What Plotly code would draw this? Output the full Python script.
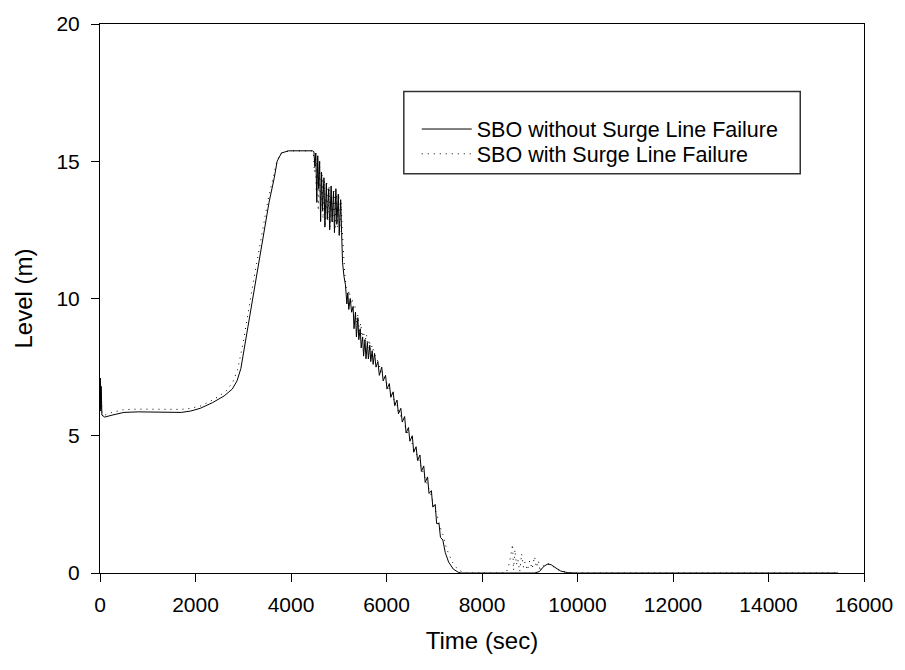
import plotly.graph_objects as go

# ---- data ----
t_without = [0, 8, 16, 24, 40, 100, 250, 500, 800, 1100, 1400, 1700, 1900, 2100, 2350, 2600, 2770, 2870,
             2950, 3100, 3264, 3400, 3540, 3650, 3710, 3800, 3950, 4450,
             4480, 4500, 4520, 4540, 4560, 4580, 4600, 4620, 4640, 4660, 4690, 4710, 4740, 4760, 4790, 4810,
             4840, 4860, 4890, 4910, 4940, 4960, 4990, 5010, 5040, 5060, 5080, 5110, 5140, 5170, 5190, 5210,
             5240, 5270, 5300, 5320, 5350, 5370, 5400, 5420, 5450, 5470, 5500, 5520, 5550, 5570, 5600, 5620,
             5650, 5670, 5700, 5720, 5750, 5780, 5820, 5850, 5900, 5930, 5980, 6010, 6060, 6090, 6140, 6170,
             6220, 6250, 6300, 6330, 6380, 6410, 6460, 6490, 6540, 6570, 6620, 6650, 6700, 6730, 6780, 6810,
             6860, 6890, 6940, 6970, 7020, 7050, 7100, 7130, 7180, 7230, 7300, 7400, 7500, 7560, 8000, 9100,
             9200, 9300, 9380, 9450, 9550, 9650, 9800, 10000, 15460]
lvl_without = [6.0, 7.1, 5.9, 6.8, 5.75, 5.68, 5.75, 5.85, 5.87, 5.87, 5.86, 5.85, 5.9, 6.0, 6.2, 6.45, 6.7, 7.0,
               7.45, 9.0, 10.58, 12.0, 13.5, 14.4, 15.0, 15.3, 15.38, 15.38,
               15.35, 14.8, 15.3, 13.5, 15.2, 14.0, 15.0, 12.8, 14.6, 13.2, 14.4, 12.6, 14.2, 12.9, 14.0, 12.5,
               14.1, 12.8, 13.9, 12.4, 14.0, 12.7, 13.8, 12.3, 13.6, 12.4, 11.3, 10.8, 10.5, 9.8, 10.2, 9.6,
               10.0, 9.5, 9.7, 8.9, 9.5, 8.6, 9.3, 8.5, 8.9, 8.2, 8.6, 7.9, 8.5, 7.8, 8.4, 7.8,
               8.3, 7.7, 8.1, 7.6, 8.0, 7.5, 7.7, 7.2, 7.5, 7.0, 7.2, 6.7, 6.9, 6.4, 6.6, 6.1,
               6.3, 5.8, 6.0, 5.5, 5.7, 5.1, 5.3, 4.8, 5.0, 4.4, 4.6, 4.1, 4.3, 3.7, 3.9, 3.3,
               3.5, 2.9, 3.0, 2.4, 2.5, 1.8, 1.8, 1.3, 1.2, 0.75, 0.4, 0.14, 0.03, 0.0, 0.0, 0.0,
               0.05, 0.25, 0.33, 0.3, 0.18, 0.07, 0.01, 0.0, 0.0]

t_with = [0, 8, 16, 24, 40, 100, 250, 500, 800, 1100, 1400, 1700, 1900, 2100, 2300, 2500, 2650, 2780,
          2880, 3000, 3200, 3380, 3520, 3640, 3710, 3800, 3950, 4450,
          4470, 4490, 4510, 4530, 4550, 4570, 4600, 4620, 4650, 4670, 4700, 4720, 4750, 4770, 4800, 4820,
          4850, 4870, 4900, 4920, 4950, 4970, 5000, 5020, 5050, 5070, 5100, 5130, 5160, 5190, 5220, 5250,
          5280, 5310, 5340, 5370, 5400, 5430, 5460, 5490, 5520, 5550, 5580, 5610, 5640, 5670, 5700, 5740,
          5800, 5860, 5920, 5980, 6040, 6100, 6160, 6220, 6280, 6340, 6400, 6460, 6520, 6580, 6640, 6700,
          6760, 6820, 6880, 6940, 7000, 7060, 7120, 7180, 7240, 7300, 7380, 7460, 7560, 7680, 8500,
          8550, 8600, 8640, 8660, 8690, 8720, 8750, 8790, 8830, 8870, 8900, 8950, 9000, 9050, 9100, 9140,
          9180, 9220, 9260, 9300, 9380, 9450, 9550, 9700, 9900, 15460]
lvl_with = [6.0, 7.0, 5.9, 6.7, 5.8, 5.75, 5.85, 5.95, 5.97, 5.97, 5.96, 5.96, 6.0, 6.08, 6.25, 6.45, 6.65, 6.95,
            7.4, 8.4, 10.5, 12.3, 13.6, 14.5, 15.05, 15.3, 15.38, 15.38,
            15.3, 14.6, 15.3, 13.9, 15.1, 13.2, 14.8, 13.0, 14.5, 12.9, 14.3, 12.7, 14.2, 12.8, 14.1, 12.6,
            14.0, 12.7, 13.9, 12.5, 13.8, 12.6, 13.8, 12.4, 13.5, 12.6, 11.5, 10.8, 10.4, 10.1, 10.3, 9.8,
            10.0, 9.6, 9.7, 9.1, 9.4, 8.8, 9.1, 8.6, 8.8, 8.4, 8.7, 8.2, 8.5, 8.1, 8.3, 8.0,
            7.8, 7.5, 7.3, 7.0, 6.8, 6.5, 6.3, 6.0, 5.8, 5.5, 5.3, 5.0, 4.8, 4.5, 4.3, 4.0,
            3.7, 3.4, 3.1, 2.8, 2.4, 2.1, 1.7, 1.4, 1.0, 0.7, 0.4, 0.2, 0.06, 0.0, 0.0,
            0.2, 0.6, 1.05, 0.1, 0.85, 0.3, 0.5, 0.05, 0.7, 0.2, 0.4, 0.1, 0.45, 0.15, 0.6, 0.2,
            0.45, 0.05, 0.3, 0.25, 0.33, 0.3, 0.15, 0.05, 0.0, 0.0]

x_ticks = [0, 2000, 4000, 6000, 8000, 10000, 12000, 14000, 16000]
y_ticks = [0, 5, 10, 15, 20]

FONT = "Liberation Sans, Arial, sans-serif"

# plot-area geometry in pixels (layout only)
L, R, T, B = 100, 867, 19, 573
W, H = R - L, B - T


def px(x):
    return (x - L) / W


def py(y):
    return (B - y) / H


fig = go.Figure()
fig.add_trace(go.Scatter(x=t_without, y=lvl_without, mode="lines",
                         name="SBO without Surge Line Failure", legend="legend",
                         line=dict(color="black", width=1)))
fig.add_trace(go.Scatter(x=t_with, y=lvl_with, mode="lines",
                         name="SBO with Surge Line Failure", legend="legend2",
                         line=dict(color="black", width=1, dash="1px,5px")))

# legend frame
fig.add_shape(type="rect", xref="paper", yref="paper",
              x0=px(405), x1=px(803), y0=py(170), y1=py(87),
              line=dict(color="#333333", width=1.5), fillcolor="rgba(0,0,0,0)")

leg_common = dict(xanchor="left", yanchor="middle", bgcolor="rgba(0,0,0,0)", borderwidth=0,
                  font=dict(family=FONT, size=21.5, color="black"), itemwidth=50)

fig.update_layout(
    width=905, height=670,
    margin=dict(l=L, r=905 - R, t=T, b=670 - B),
    paper_bgcolor="white", plot_bgcolor="white",
    font=dict(family=FONT, size=21, color="black"),
    showlegend=True,
    legend=dict(x=px(418), y=py(125), **leg_common),
    legend2=dict(x=px(418), y=py(150), **leg_common),
    xaxis=dict(range=[0, 16000], tickvals=x_ticks, ticktext=[str(v) for v in x_ticks],
               showline=True, linecolor="black", linewidth=1, mirror=True,
               ticks="outside", ticklen=8, tickcolor="black", tickwidth=1,
               ticklabelstandoff=5,
               showgrid=False, zeroline=False,
               title=dict(text="Time (sec)", font=dict(size=24), standoff=16)),
    yaxis=dict(range=[0, 20], tickvals=y_ticks, ticktext=[str(v) for v in y_ticks],
               showline=True, linecolor="black", linewidth=1, mirror=True,
               ticks="outside", ticklen=8, tickcolor="black", tickwidth=1,
               ticklabelstandoff=7,
               showgrid=False, zeroline=False,
               title=dict(text="Level (m)", font=dict(size=24), standoff=17)),
)

fig.write_html("out.html")
